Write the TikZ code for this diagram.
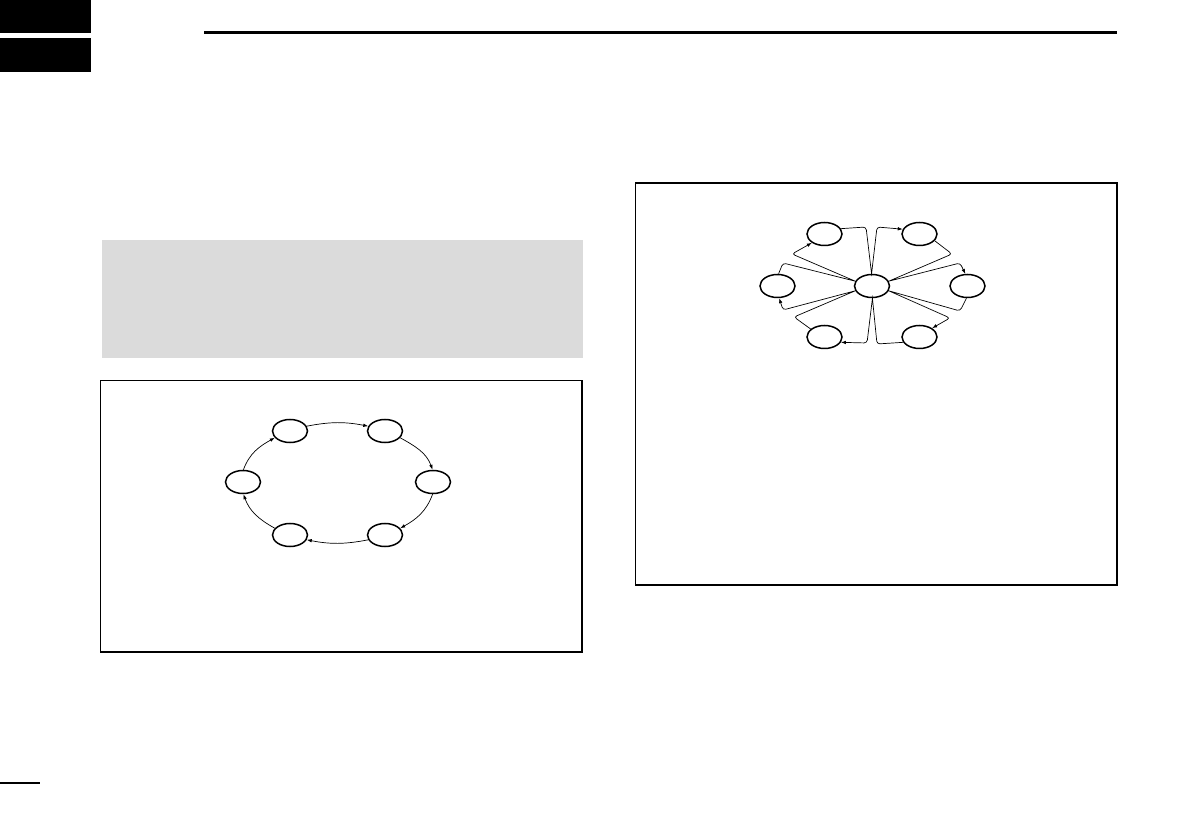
\documentclass[tikz,border=0pt]{standalone}
\usetikzlibrary{shapes.geometric,arrows.meta}
\begin{document}
\begin{tikzpicture}[x=1pt,y=1pt,
  ell/.style={draw=black,ellipse,line width=1.5pt,minimum width=35pt,minimum height=23pt,inner sep=0pt},
  frame/.style={draw=black,line width=1.1pt},
  conn/.style={draw=black,line width=0.7pt},
  arr/.style={-{Latex[length=5pt,width=3.6pt]}},
  petal/.style={conn,rounded corners=3pt}]
\useasboundingbox (0,0) rectangle (1191,839);
% header tabs and rule
\fill[black] (0,839) rectangle (91,806);
\fill[black] (0,801) rectangle (91,767);
\draw[line width=3pt] (204,806.5) -- (1117,806.5);
\draw[line width=1.2pt] (0,56) -- (40,56);
% gray box
\fill[gray!28] (102,599) rectangle (583,481);
% frames
\draw[frame] (100.5,458.5) rectangle (582,187);
\draw[frame] (635.5,656) rectangle (1117,254);
% ring diagram
\node[ell] (tl) at (290,408) {};
\node[ell] (tr) at (385,408) {};
\node[ell] (l)  at (243,357) {};
\node[ell] (r)  at (433,357) {};
\node[ell] (bl) at (290,304) {};
\node[ell] (br) at (385,304) {};
\draw[conn,arr] (tl.16) to[out=11,in=169] (tr.164);
\draw[conn,arr] (tr.-24) to[out=-29,in=110] (r.92);
\draw[conn,arr] (r.-92) to[out=-110,in=29] (br.24);
\draw[conn,arr] (br.196) to[out=191,in=-11] (bl.-16);
\draw[conn,arr] (bl.156) to[out=151,in=-70] (l.-88);
\draw[conn,arr] (l.88) to[out=70,in=209] (tl.204);
% star diagram
\node[ell] (c)   at (872,553) {};
\node[ell] (stl) at (824.5,605) {};
\node[ell] (str) at (919.5,605) {};
\node[ell] (sl)  at (777.5,553) {};
\node[ell] (sr)  at (967.5,553) {};
\node[ell] (sbl) at (824.5,502) {};
\node[ell] (sbr) at (919.5,502) {};
\draw[petal,arr] (stl.18) -- (866,612) [sharp corners] -- (c.92) [rounded corners=3pt] -- (877,612) -- (str.164);
\draw[petal,arr] (str.-24) -- (952,585) [sharp corners] -- (c.16) [rounded corners=3pt] -- (960,576) -- (sr.100);
\draw[petal,arr] (sr.-95) -- (960,528) [sharp corners] -- (c.-16) [rounded corners=3pt] -- (950,521) -- (sbr.35);
\draw[petal,arr] (sbr.198) -- (877,495) [sharp corners] -- (c.-88) [rounded corners=3pt] -- (867,496) -- (sbl.-18);
\draw[petal,arr] (sbl.150) -- (794,522) [sharp corners] -- (c.196) [rounded corners=3pt] -- (783,529) -- (sl.-82);
\draw[petal,arr] (sl.85) -- (783,576) [sharp corners] -- (c.164) [rounded corners=3pt] -- (792,585) -- (stl.215);
\end{tikzpicture}
\end{document}
